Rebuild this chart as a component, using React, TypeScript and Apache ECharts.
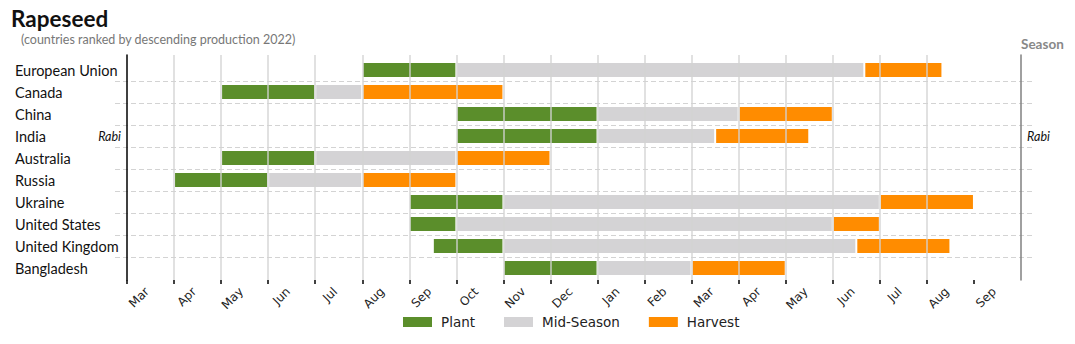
import React, { useEffect, useRef } from "react";
import * as echarts from "echarts";

const countries = [
  "European Union",
  "Canada",
  "China",
  "India",
  "Australia",
  "Russia",
  "Ukraine",
  "United States",
  "United Kingdom",
  "Bangladesh",
];
const seasonLabels = ["", "", "", "Rabi", "", "", "", "", "", ""];
const monthLabels = [
  "Mar", "Apr", "May", "Jun", "Jul", "Aug", "Sep", "Oct", "Nov", "Dec",
  "Jan", "Feb", "Mar", "Apr", "May", "Jun", "Jul", "Aug", "Sep",
];
// [start, end] in months counted from 1 March
const plant = [
  [5, 7], [2, 4], [7, 10], [7, 10], [2, 4], [1, 3], [6, 8], [6, 7], [6.5, 8], [8, 10],
];
const midSeason = [
  [7, 15.67], [4, 5], [10, 13], [10, 12.5], [4, 7], [3, 5], [8, 16], [7, 15], [8, 15.5], [10, 12],
];
const harvest = [
  [15.67, 17.33], [5, 8], [13, 15], [12.5, 14.5], [7, 9], [5, 7], [16, 18], [15, 16], [15.5, 17.5], [12, 14],
];
const phaseNames = ["Plant", "Mid-Season", "Harvest"];
const phaseColors = ["#5b8e2b", "#d4d3d5", "#ff8c00"];

const tickValues = monthLabels.map((_, i) => i);

const renderItem = (params: any, api: any) => {
  const row = api.value(2);
  const s = api.coord([api.value(0), row]);
  const e = api.coord([api.value(1), row]);
  const h = 14;
  return {
    type: "rect",
    shape: { x: s[0] + 1, y: s[1] - h / 2, width: Math.max(0, e[0] - s[0] - 2), height: h },
    style: api.style(),
  };
};

export default function App() {
  const ref = useRef<HTMLDivElement>(null);
  useEffect(() => {
    if (!ref.current) return;
    const chart = echarts.init(ref.current, undefined, { renderer: "svg" });
    const phases = [plant, midSeason, harvest];
    const series = phases.map((arr, k) => ({
      type: "custom",
      name: phaseNames[k],
      xAxisIndex: 0,
      yAxisIndex: 0,
      renderItem,
      itemStyle: { color: phaseColors[k] },
      encode: { x: [0, 1], y: 2 },
      data: arr.map((d, i) => [d[0], d[1], i]),
      z: 2,
    }));
    chart.setOption({
      animation: false,
      textStyle: { fontFamily: "Lato" },
      title: [
        {
          text: "Rapeseed",
          left: 6,
          top: 2,
          textStyle: { fontFamily: "Lato", fontWeight: "bold", fontSize: 22.5, color: "#111" },
        },
        {
          text: "(countries ranked by descending production 2022)",
          left: 16,
          top: 28,
          textStyle: { fontFamily: "Lato", fontWeight: "normal", fontSize: 12.5, color: "#777" },
        },
      ],
      legend: {
        left: 398,
        top: 310,
        itemWidth: 29,
        itemHeight: 10,
        itemGap: 29,
        icon: "rect",
        data: phaseNames,
        textStyle: { fontFamily: "DejaVu Sans", fontSize: 13.5, color: "#222", padding: [0, 0, 0, 4] },
      },
      grid: [
        { left: 127, right: 54, top: 59, bottom: 65 },
        { left: 115, right: 40, top: 59, bottom: 65 },
        { left: 127, right: 54, top: 55, bottom: 64 },
      ],
      xAxis: [
        { type: "value", gridIndex: 0, min: 0, max: 19, show: false },
        {
          type: "category",
          gridIndex: 0,
          position: "bottom",
          data: monthLabels,
          boundaryGap: true,
          axisLine: { show: false },
          axisTick: { show: false },
          splitLine: { show: false },
          axisLabel: {
            rotate: 45,
            margin: 7,
            interval: 0,
            padding: [0, 5, 0, 0],
            fontFamily: "DejaVu Sans",
            fontSize: 12,
            color: "#222",
          },
        },
        { type: "value", gridIndex: 1, min: 0, max: 1, show: false },
        {
          type: "value",
          gridIndex: 2,
          position: "bottom",
          min: 0,
          max: 19,
          interval: 1,
          z: 5,
          axisLine: { show: false },
          axisLabel: { show: false },
          axisTick: {
            show: true,
            length: 4,
            customValues: tickValues,
            lineStyle: { color: "#000", width: 1.5 },
          },
          splitLine: {
            show: true,
            showMinLine: false,
            showMaxLine: false,
            lineStyle: { color: "#d3d3d3", width: 1.5, opacity: 0.9 },
          },
        },
      ],
      yAxis: [
        {
          type: "category",
          gridIndex: 0,
          data: countries,
          inverse: true,
          axisLine: { show: false },
          axisTick: { show: false },
          splitLine: { show: false },
          axisLabel: {
            align: "left",
            margin: 112,
            fontFamily: "Lato",
            fontSize: 14.5,
            color: "#111",
          },
        },
        {
          type: "category",
          gridIndex: 0,
          position: "left",
          data: seasonLabels,
          inverse: true,
          axisLine: { show: false },
          axisTick: { show: false },
          axisLabel: { margin: 6, fontStyle: "italic", fontFamily: "Lato", fontSize: 12.5, color: "#111" },
        },
        {
          type: "category",
          gridIndex: 0,
          position: "right",
          data: seasonLabels,
          inverse: true,
          axisLine: { show: false },
          axisTick: { show: false },
          axisLabel: { margin: 6, fontStyle: "italic", fontFamily: "Lato", fontSize: 12.5, color: "#111" },
        },
        {
          type: "category",
          gridIndex: 1,
          data: countries,
          inverse: true,
          axisLine: { show: false },
          axisTick: { show: false },
          axisLabel: { show: false },
          splitLine: {
            show: true,
            showMinLine: false,
            showMaxLine: false,
            interval: 0,
            lineStyle: { color: "#d3d3d3", type: [5, 3], width: 1.2 },
          },
        },
        {
          type: "value",
          gridIndex: 2,
          position: "left",
          min: 0,
          max: 1,
          axisLabel: { show: false },
          axisTick: { show: false },
          splitLine: { show: false },
          axisLine: { show: true, lineStyle: { color: "#000", width: 1.5 } },
        },
        {
          type: "value",
          gridIndex: 2,
          position: "right",
          min: 0,
          max: 1,
          name: "Season",
          nameLocation: "end",
          nameGap: 4,
          nameTextStyle: { fontFamily: "Lato", fontWeight: "bold", fontSize: 13.5, color: "#888", align: "left" },
          axisLabel: { show: false },
          axisTick: { show: false },
          splitLine: { show: false },
          axisLine: { show: true, lineStyle: { color: "#808080", width: 1.5 } },
        },
      ],
      series,
    });
    return () => chart.dispose();
  }, []);
  return <div ref={ref} style={{ width: 1075, height: 344, margin: -8 }} />;
}
